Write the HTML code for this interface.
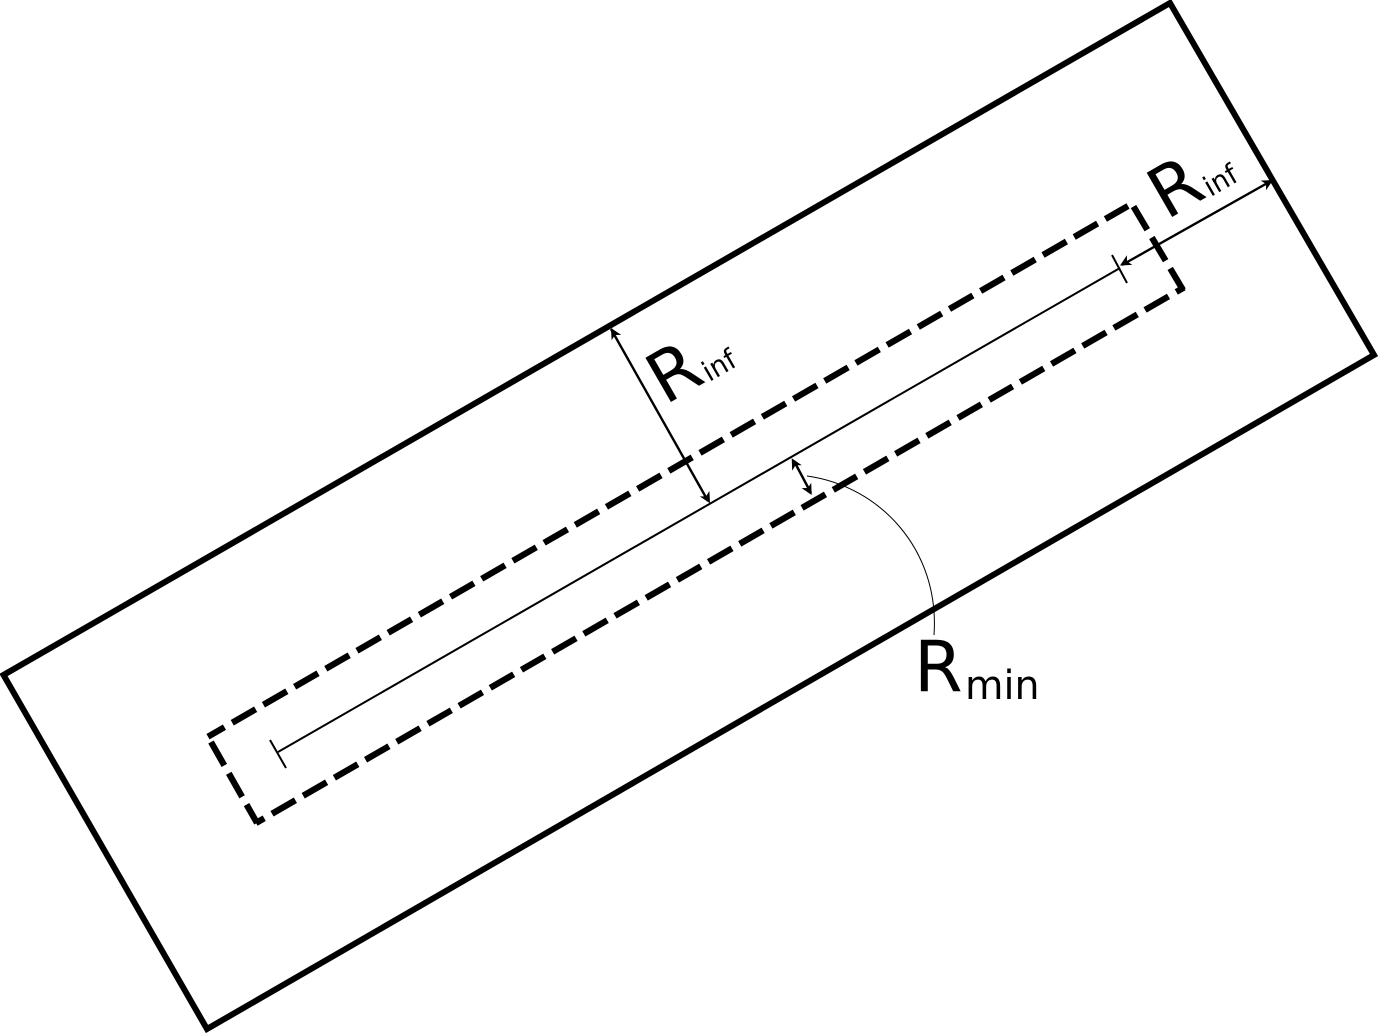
<!DOCTYPE html>
<html>
<head>
<meta charset="utf-8">
<style>
html,body{margin:0;padding:0;background:#fff;width:1378px;height:1033px;overflow:hidden}
svg{display:block}
text{font-family:"DejaVu Sans","Liberation Sans",sans-serif;fill:#000}
</style>
</head>
<body>
<svg width="1378" height="1033" viewBox="0 0 1378 1033" xmlns="http://www.w3.org/2000/svg">
<polygon points="1170,3 1374,355 207,1029 3.5,675" fill="none" stroke="#000" stroke-width="6"/>
<g fill="none" stroke="#000" stroke-width="6.3">
<line x1="208" y1="736.7" x2="1128" y2="206" stroke-dasharray="27 9" stroke-dashoffset="8"/>
<line x1="1133.5" y1="206.5" x2="1183" y2="290" stroke-dasharray="27 9"/>
<line x1="256" y1="823" x2="1184" y2="287.5" stroke-dasharray="27 9" stroke-dashoffset="17.5"/>
<line x1="211" y1="742" x2="257" y2="823" stroke-dasharray="27 9"/>
</g>
<g fill="none" stroke="#000" stroke-width="2">
<line x1="278" y1="752" x2="1120" y2="268"/>
<line x1="270" y1="740" x2="286" y2="768"/>
<line x1="1112" y1="255" x2="1127" y2="283"/>
</g>
<g fill="none" stroke="#000" stroke-width="2.4">
<line x1="611" y1="329" x2="708" y2="501"/>
<line x1="794" y1="461" x2="811" y2="493"/>
<line x1="1122" y1="265" x2="1271" y2="181"/>
</g>
<g fill="#000">
<polygon points="611,328 621.2,334.9 615,335 611.6,340.3"/>
<polygon points="710,503.3 699.8,496.4 706,496.4 709.4,491"/>
<polygon points="791.7,458.3 801.8,465.3 795.5,465.3 792.2,470.7"/>
<polygon points="811.7,495 801.6,488.1 807.9,488 811.2,482.7"/>
<polygon points="1120,265.5 1126.9,255.3 1127,261.4 1132.3,264.9"/>
<polygon points="1273,180 1266.1,190.2 1266,183.9 1260.7,180.6"/>
</g>
<path d="M807 476 C880 486 940 550 934 635" fill="none" stroke="#000" stroke-width="1"/>
<g transform="translate(665,405.4) rotate(-30)">
<text x="0" y="0" font-size="70">R</text>
<text x="50" y="2" font-size="28" textLength="34" lengthAdjust="spacingAndGlyphs">inf</text>
</g>
<g transform="translate(1166.3,220.4) rotate(-30)">
<text x="0" y="0" font-size="70">R</text>
<text x="50" y="2" font-size="28" textLength="34" lengthAdjust="spacingAndGlyphs">inf</text>
</g>
<text x="914" y="691" font-size="70">R</text>
<text x="965" y="699" font-size="40" textLength="74.5" lengthAdjust="spacingAndGlyphs">min</text>
</svg>
</body>
</html>
